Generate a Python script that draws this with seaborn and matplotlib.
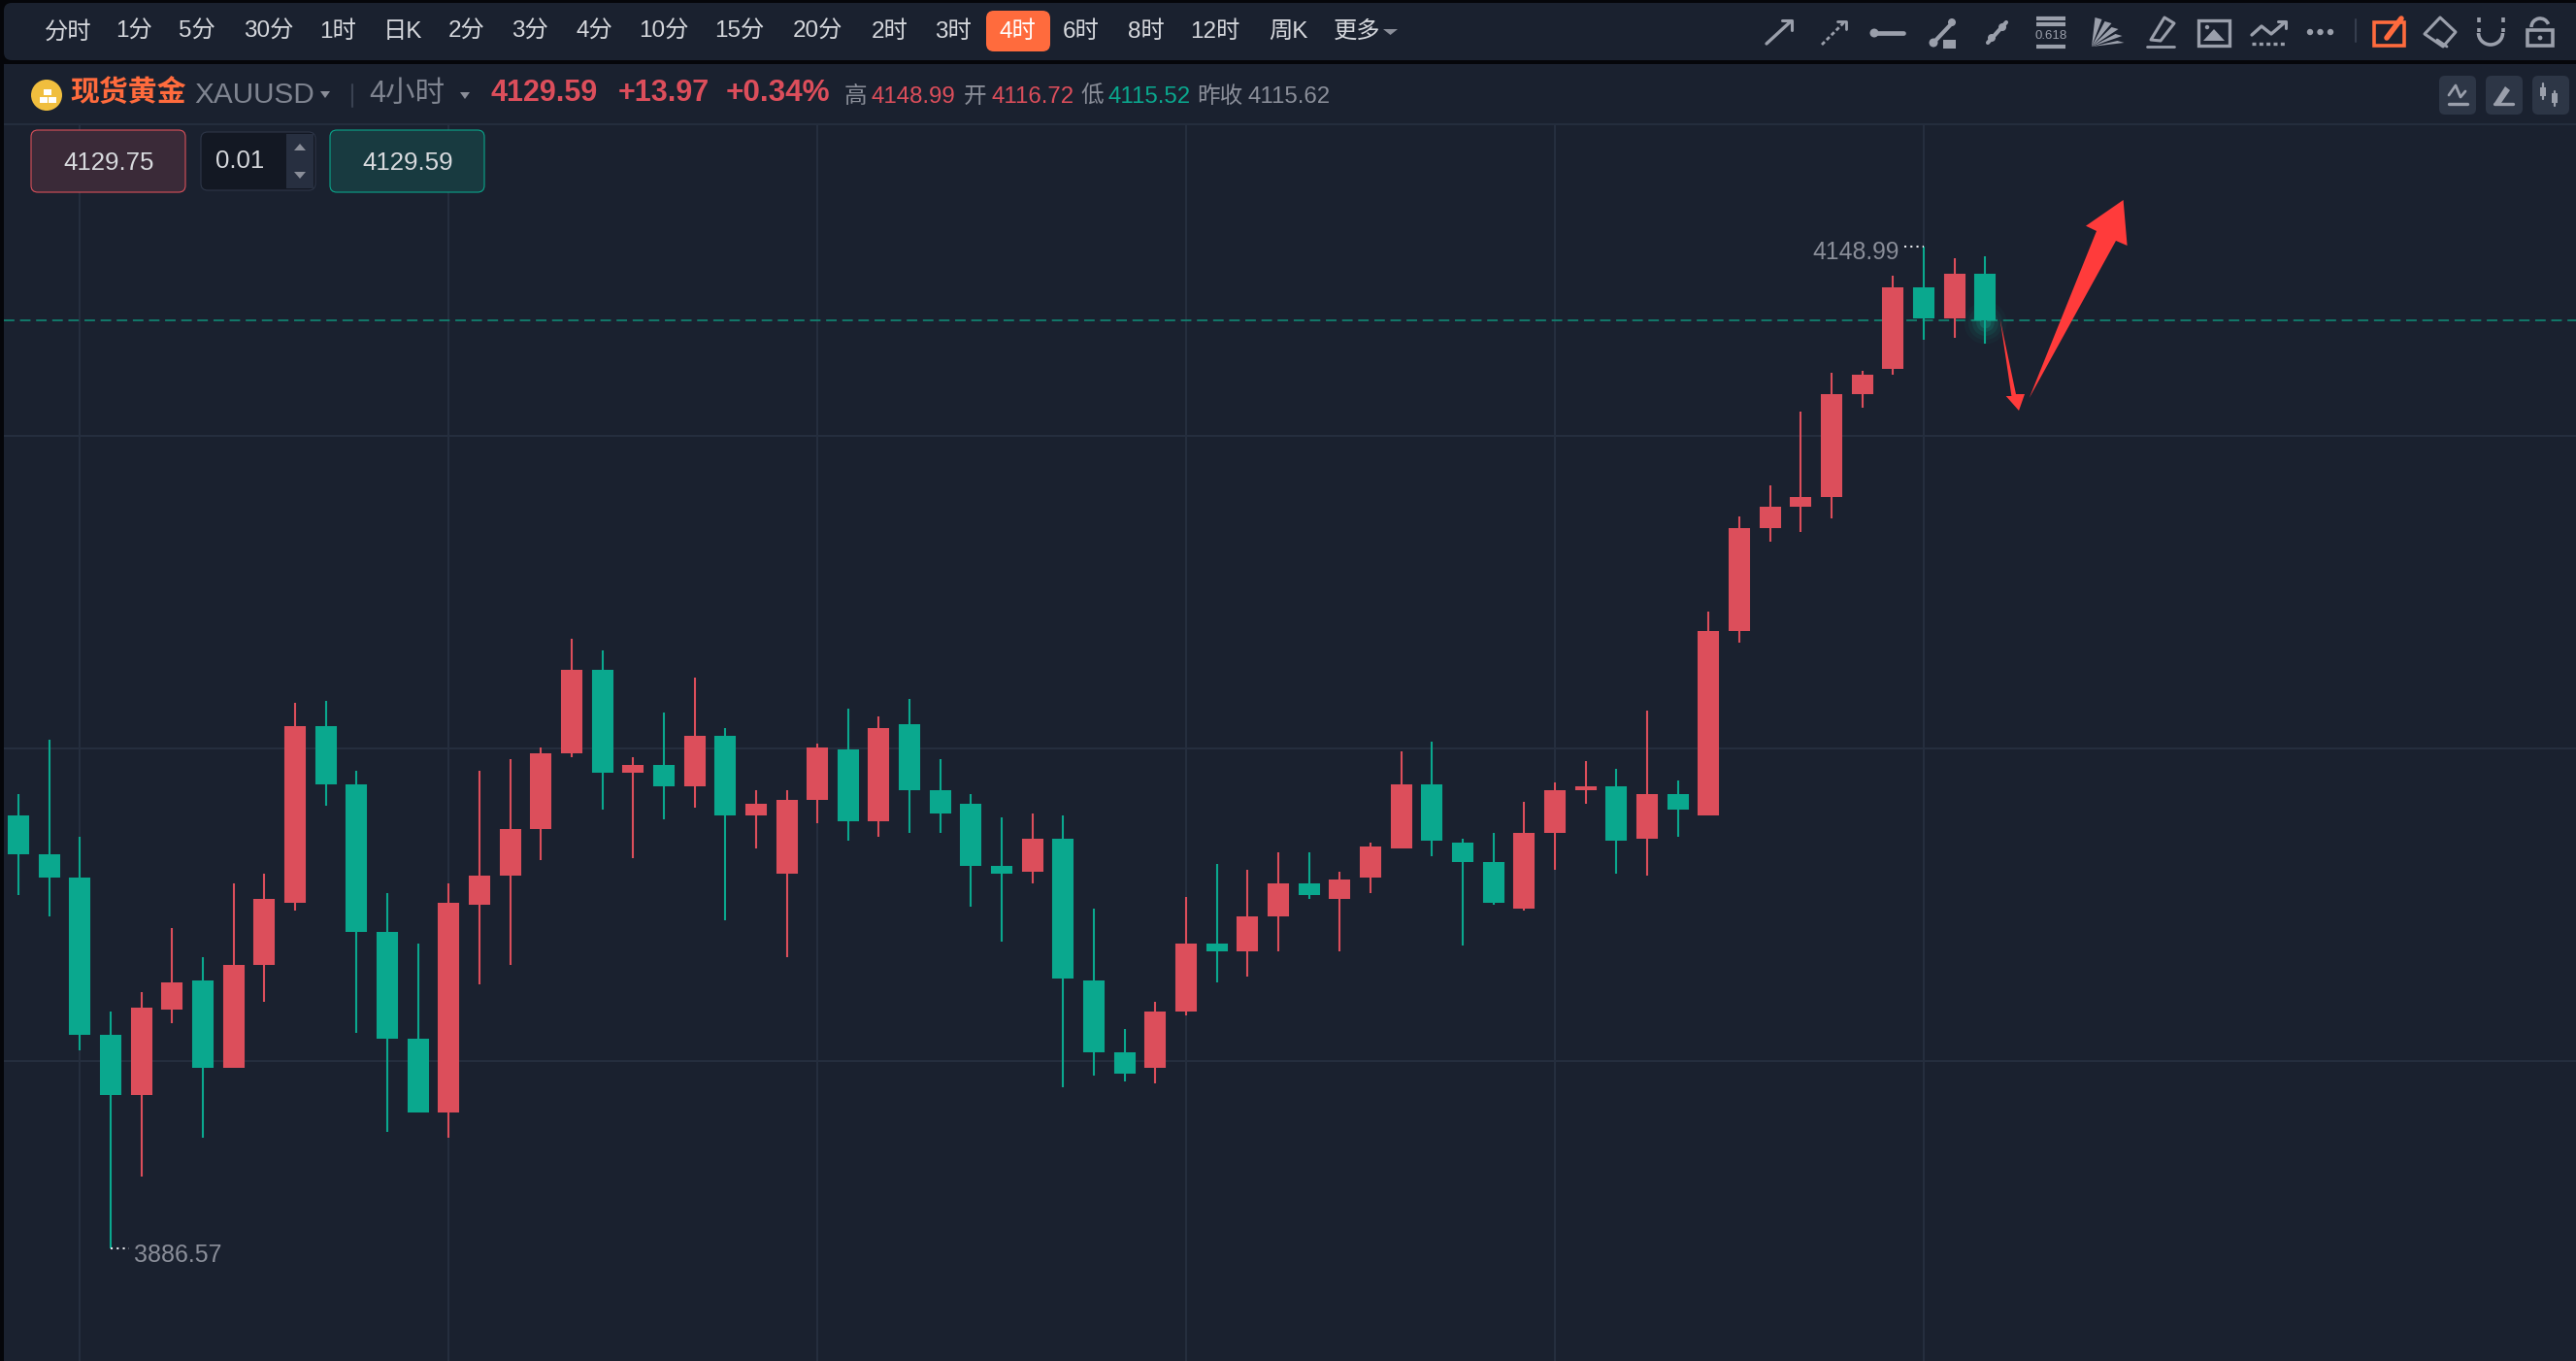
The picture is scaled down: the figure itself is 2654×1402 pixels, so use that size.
import numpy as np
import pandas as pd
import matplotlib
matplotlib.use("Agg")
import matplotlib.pyplot as plt
from matplotlib.patches import FancyBboxPatch, Rectangle, Polygon, Circle, Arc
import seaborn as sns

# ---------- data: 4-hour XAUUSD candles ----------
opens = [3999.9, 3989.8, 3983.7, 3942.5, 3926.7, 3949.1, 3956.8, 3933.9, 3960.8, 3977.1,
         4023.3, 4008.1, 3969.5, 3941.5, 3922.2, 3976.5, 3984.3, 3996.4, 4016.3, 4038.1,
         4011.2, 4013.2, 4007.7, 4020.8, 3999.9, 3984.7, 4004.0, 4017.3, 3998.5, 4023.9,
         4006.6, 4003.0, 3986.8, 3985.2, 3993.9, 3956.8, 3937.9, 3933.9, 3948.6, 3966.4,
         3964.4, 3973.5, 3982.2, 3978.1, 3983.7, 3991.3, 4008.1, 3992.9, 3987.8, 3975.6,
         3995.4, 4006.6, 4007.6, 3993.9, 4005.6, 4000.0, 4048.3, 4075.3, 4080.9, 4083.4,
         4110.3, 4117.0, 4138.3, 4130.2, 4141.9]
closes = [3989.8, 3983.7, 3942.5, 3926.7, 3949.6, 3956.2, 3933.9, 3960.8, 3978.1, 4023.3,
          4008.1, 3969.5, 3941.5, 3922.2, 3977.1, 3984.3, 3996.4, 4016.3, 4038.1, 4011.2,
          4013.2, 4007.7, 4020.8, 3999.9, 4003.0, 4004.0, 4017.8, 3998.5, 4022.9, 4006.6,
          4000.5, 3986.8, 3984.7, 3993.9, 3957.3, 3937.9, 3932.3, 3948.6, 3966.4, 3964.4,
          3973.5, 3982.2, 3979.1, 3983.2, 3991.8, 4008.1, 3993.4, 3987.8, 3977.1, 3995.4,
          4006.6, 4007.6, 3993.4, 4005.6, 4001.5, 4048.3, 4075.3, 4080.9, 4083.4, 4110.3,
          4115.4, 4138.3, 4130.2, 4141.9, 4129.7]
highs = [4005.6, 4019.8, 3994.4, 3948.6, 3953.7, 3970.5, 3962.8, 3982.2, 3984.7, 4029.5,
         4030.0, 4011.6, 3979.6, 3966.4, 3982.2, 4011.6, 4014.7, 4017.8, 4046.3, 4043.2,
         4015.3, 4027.0, 4036.1, 4022.9, 4006.6, 4006.6, 4018.8, 4028.0, 4025.9, 4030.5,
         4014.7, 4005.6, 3999.5, 4000.5, 4000.0, 3975.6, 3944.0, 3951.2, 3978.6, 3987.3,
         3985.7, 3990.3, 3990.3, 3985.2, 3992.9, 4016.8, 4019.3, 3993.9, 3995.4, 4003.5,
         4008.6, 4014.2, 4012.2, 4027.4, 4009.1, 4053.4, 4078.3, 4086.4, 4105.8, 4115.9,
         4116.4, 4141.4, 4148.99, 4145.9, 4146.5]
lows = [3979.2, 3973.5, 3938.4, 3886.57, 3905.4, 3945.6, 3915.6, 3933.9, 3951.1, 3975.1,
        4002.5, 3943.1, 3917.1, 3922.2, 3915.6, 3955.8, 3960.8, 3988.2, 4015.3, 4001.5,
        3988.8, 3998.9, 4002.0, 3972.5, 3991.3, 3962.8, 3997.9, 3993.4, 3994.4, 3995.4,
        3995.4, 3976.1, 3966.9, 3982.2, 3928.8, 3931.8, 3930.3, 3929.8, 3947.6, 3956.2,
        3957.8, 3964.4, 3978.1, 3964.4, 3979.6, 3991.3, 3989.3, 3965.9, 3976.6, 3975.1,
        3985.7, 4003.0, 3984.7, 3984.2, 3994.4, 4000.0, 4045.3, 4071.7, 4074.2, 4077.8,
        4106.8, 4115.4, 4124.6, 4125.1, 4123.6]
last_price = 4129.59
high_mark = 4148.99
low_mark = 3886.57
nav_labels = ["分时", "1分", "5分", "30分", "1时", "日K", "2分", "3分", "4分", "10分",
              "15分", "20分", "2时", "3时", "4时", "6时", "8时", "12时", "周K", "更多"]

# ---------- theme ----------
BG = "#1a212f"
RED = "#dc4e5b"
GREEN = "#0aa88e"
GRID = "#252e3e"
GREY = "#8a8e99"
ICON = "#9a9fab"
ORANGE = "#ff6b3d"
sns.set_theme(style="dark")
FONT = ["Liberation Sans", "Noto Sans CJK SC", "DejaVu Sans"]
plt.rcParams["font.family"] = FONT

W, H = 2654, 1402
fig = plt.figure(figsize=(W / 100, H / 100), dpi=100, facecolor="#05060a")

# ---------- chart axes: real price / bar-index scale ----------
PX_PER_BAR = 31.66
x_of = lambda px: (px - 19) / PX_PER_BAR
y_of = lambda py: 4213.58 - 0.25428 * py
ax = fig.add_axes([4 / W, 0, (W - 4) / W, (H - 128) / H], zorder=1)
ax.set_facecolor(BG)
ax.set_xlim(x_of(4), x_of(W))
ax.set_ylim(y_of(H), y_of(128))
for s in ax.spines.values():
    s.set_visible(False)
ax.set_xticks(np.arange(2, 70, 12))
ax.set_yticks([3935.6, 4017.5, 4099.4])
ax.grid(True, color=GRID, linewidth=1.5)
ax.set_axisbelow(True)
ax.tick_params(length=0, labelleft=False, labelbottom=False)

idx = np.arange(len(opens))
direction = np.where(np.array(closes) >= np.array(opens), "up", "down")
pal = {"up": RED, "down": GREEN}
wicks = pd.DataFrame({"bar": np.r_[idx, idx], "price": lows + highs,
                      "dir": np.r_[direction, direction]})
bodies = pd.DataFrame({"bar": np.r_[idx, idx], "price": opens + closes,
                       "dir": np.r_[direction, direction]})
common = dict(x="bar", y="price", hue="dir", units="bar", estimator=None, palette=pal,
              legend=False, ax=ax, solid_capstyle="butt")
sns.lineplot(data=wicks, linewidth=1.5, **common)
sns.lineplot(data=bodies, linewidth=15.9, **common)
ax.set_xlabel("")
ax.set_ylabel("")

ax.axhline(last_price, color="#12806f", linewidth=1.3, linestyle=(0, (6, 3.2)), zorder=1.5)
for size, alpha in zip([1000, 650, 380, 180, 70], [.04, .06, .09, .13, .2]):
    ax.scatter([64], [y_of(332)], s=size, color="#12c4a4", alpha=alpha, linewidths=0, zorder=1.6)

# extreme labels
hi_x = np.argmax(highs)
lo_x = np.argmin(lows)
ax.plot([hi_x - 0.63, hi_x], [high_mark, high_mark], color="#e8eaee", lw=1.5,
        linestyle=(0, (1, 2)))
ax.text(hi_x - 0.8, high_mark - 1.6, f"{high_mark:.2f}", color=GREY, fontsize=17.8,
        ha="right", va="center")
ax.plot([lo_x, lo_x + 0.6], [low_mark, low_mark], color="#e8eaee", lw=1.5,
        linestyle=(0, (1, 2)))
ax.text(lo_x + 0.75, low_mark - 1.8, f"{low_mark:.2f}", color=GREY, fontsize=18,
        ha="left", va="center")

# ---------- interface overlay in pixel coordinates ----------
ui = fig.add_axes([0, 0, 1, 1], zorder=2)
ui.set_xlim(0, W)
ui.set_ylim(H, 0)
ui.axis("off")
ui.patch.set_alpha(0)


def box(x0, y0, x1, y1, fc, ec="none", r=8, lw=0.8, z=2):
    ui.add_patch(FancyBboxPatch((x0 + r, y0 + r), x1 - x0 - 2 * r, y1 - y0 - 2 * r,
                                boxstyle=f"round,pad={r},rounding_size={r}", fc=fc, ec=ec,
                                lw=lw, zorder=z))


def T(x, y, s, color, size, ha="center", weight="normal"):
    ui.text(x, y, s, color=color, fontsize=size, ha=ha, va="center", fontweight=weight,
            family=FONT, zorder=5)


def L(pts, color=ICON, lw=2.4, ls="-", cap="round"):
    a = np.array(pts, float)
    line, = ui.plot(a[:, 0], a[:, 1], color=color, lw=lw, ls=ls, zorder=4)
    line.set_solid_capstyle(cap)
    return line


def P(pts, color=ICON, fill=True, lw=2.0):
    ui.add_patch(Polygon(pts, closed=True, fc=color if fill else "none",
                         ec=color, lw=lw if not fill else 0, zorder=4, joinstyle="round"))


def dot(x, y, r=3.5, color=ICON):
    ui.add_patch(Circle((x, y), r, fc=color, ec="none", zorder=4))


# top tool bar and header
box(4, 3, W + 20, 62, BG, r=8)
ui.add_patch(Rectangle((4, 66), W, 62, fc=BG, ec="none", zorder=2))
ui.add_patch(Rectangle((4, 126.5), W, 2.5, fc="#242d3d", ec="none", zorder=2.5))

nav_x = [70, 138, 203, 277, 348, 415, 481, 546, 612, 684, 762, 842, 917, 982, 1048, 1114,
         1181, 1252, 1327, 1398]
box(1016, 11, 1082, 53, ORANGE, r=8, z=3)
for xp, lab in zip(nav_x, nav_labels):
    T(xp, 33, lab, "white" if lab == "4时" else "#d5d7dc", 17.5)
P([(1425, 30), (1440, 30), (1432.5, 36)], GREY)

# header line
ui.add_patch(Circle((48, 98), 16, fc="#f0be3e", ec="none", zorder=4))
for rx, ry in [(41, 100), (50, 100), (45, 92)]:
    ui.add_patch(Rectangle((rx, ry), 8, 6, fc="white", ec="none", zorder=5))
T(72, 96, "现货黄金", ORANGE, 21.5, ha="left", weight="bold")
T(200, 98, "XAUUSD", "#7f8490", 21.4, ha="left")
P([(330, 94), (340, 94), (335, 101)], GREY)
L([(363, 87), (363, 110)], "#3a4252", 1.5)
T(380, 97, "4小时", "#7f8490", 22, ha="left")
P([(474, 95), (484, 95), (479, 102)], GREY)
T(506, 96, "4129.59", RED, 22, ha="left", weight="bold")
T(637, 96, "+13.97", RED, 22, ha="left", weight="bold")
T(748, 96, "+0.34%", RED, 22.7, ha="left", weight="bold")
T(870, 100, "高", GREY, 17, ha="left")
T(898, 100, "4148.99", RED, 17.3, ha="left")
T(993, 100, "开", GREY, 17, ha="left")
T(1022, 100, "4116.72", RED, 17.3, ha="left")
T(1113, 100, "低", GREY, 17, ha="left")
T(1141, 100, "4115.52", GREEN, 17.3, ha="left")
T(1233, 100, "昨收", GREY, 17, ha="left")
T(1285, 100, "4115.62", GREY, 17.3, ha="left")

# order buttons
box(32, 134, 191, 198, "#3a2a38", "#d9505a", r=7)
T(112, 168, "4129.75", "#d8dade", 18.6)
box(207, 136, 325, 196, "#131823", "#2e3648", r=7)
ui.add_patch(Rectangle((295, 138), 28, 56, fc="#272f40", ec="none", zorder=3))
T(247, 166, "0.01", "#d8dade", 18.6)
P([(303, 155), (315, 155), (309, 148)], GREY)
P([(303, 177), (315, 177), (309, 184)], GREY)
box(340, 134, 499, 198, "#183a40", "#0aa58a", r=7)
T(420, 168, "4129.59", "#d8dade", 18.6)

# toolbar icons
L([(1820, 45), (1845, 22)])
L([(1836, 21), (1846, 21), (1846, 31)], lw=2.2)
L([(1877, 46), (1900, 23)], lw=2, ls=(0, (1.5, 1)))
L([(1893, 22), (1902, 22), (1902, 30)], lw=2)
L([(1931, 34), (1961, 34)], lw=3.4)
dot(1931, 34, 4.5)
L([(1992, 44), (2011, 24)], lw=3)
dot(1992, 44, 4.5)
dot(2011, 23, 4)
ui.add_patch(Rectangle((2002, 41), 13, 9, fc=ICON, ec="none", zorder=4))
L([(2048, 44), (2067, 23)], lw=3)
dot(2052, 39, 4)
dot(2063, 28, 4)
for yy in (19, 25, 48):
    L([(2098, yy), (2128, yy)], lw=3, cap="butt")
T(2113, 37, "0.618", ICON, 9.5)
for ex, ey in [(2162, 18), (2172, 22), (2179, 28), (2183, 35), (2185, 42)]:
    P([(2155, 48), (ex - 3.5, ey), (ex + 3.5, ey + 2)], ICON)
P([(2216, 41), (2230, 18), (2240, 24), (2226, 42)], ICON, fill=False, lw=2.2)
L([(2212, 48), (2240, 48)], lw=2)
ui.add_patch(Rectangle((2265, 21), 32, 26, fc="none", ec=ICON, lw=2.4, zorder=4))
P([(2270, 42), (2281, 30), (2292, 42)], ICON)
dot(2274, 28, 2.2)
L([(2320, 36), (2330, 27), (2340, 35), (2354, 23)], lw=2.4)
L([(2347, 22), (2355, 22), (2355, 29)], lw=2.2)
L([(2320, 45), (2356, 45)], lw=2.4, ls=(0, (1.2, 1)), cap="butt")
for dx in (2380, 2390.5, 2401):
    dot(dx, 33, 3.2)
L([(2427, 20), (2427, 43)], "#363e4e", 1.5)
ui.add_patch(Rectangle((2446, 23), 31, 24, fc="none", ec=ORANGE, lw=2.6, zorder=4))
L([(2459, 39), (2474, 19)], ORANGE, 4)
P([(2514, 18), (2530, 33), (2517, 48), (2498, 35)], ICON, fill=False, lw=2.2)
L([(2511, 41), (2521, 48)], lw=2)
ui.add_patch(Arc((2566, 34), 25, 24, theta1=0, theta2=180, ec=ICON, lw=2.6, zorder=4))
L([(2553.5, 33), (2553.5, 29)], lw=2.6, cap="butt")
L([(2578.5, 33), (2578.5, 29)], lw=2.6, cap="butt")
L([(2553.5, 18), (2553.5, 23)], lw=2.6, cap="butt")
L([(2578.5, 18), (2578.5, 23)], lw=2.6, cap="butt")
ui.add_patch(Rectangle((2604, 31), 26, 16, fc="none", ec=ICON, lw=2.6, zorder=4))
ui.add_patch(Arc((2617, 28), 18, 18, theta1=180, theta2=340, ec=ICON, lw=2.6, zorder=4))
dot(2617, 39, 2.4)

# header right buttons
for x0 in (2513, 2561, 2609):
    box(x0, 78, x0 + 38, 118, "#2d3646", r=6, z=3)
L([(2523, 98), (2530, 88), (2535, 100), (2540, 94)], lw=2)
L([(2523, 107), (2542, 107)], lw=2.4)
P([(2570, 106), (2581, 89), (2586, 93), (2577, 106)], ICON)
L([(2570, 107), (2589, 107)], lw=2.4)
L([(2620, 86), (2620, 102)], lw=1.6)
ui.add_patch(Rectangle((2617, 90), 6, 9, fc=ICON, ec="none", zorder=4))
L([(2632, 94), (2632, 109)], lw=1.6)
ui.add_patch(Rectangle((2629, 96), 6, 10, fc=ICON, ec="none", zorder=4))

# hand-drawn red arrows
P([(2060.5, 328), (2077, 406), (2086, 406), (2080, 423), (2066.7, 408), (2072.4, 408)],
  "#ff3b3b")
P([(2090.7, 410), (2180, 248), (2191.6, 253), (2187.6, 206), (2149, 232.7), (2160, 238)],
  "#ff3b3b")

fig.savefig("out.png", dpi=100, facecolor=fig.get_facecolor())
